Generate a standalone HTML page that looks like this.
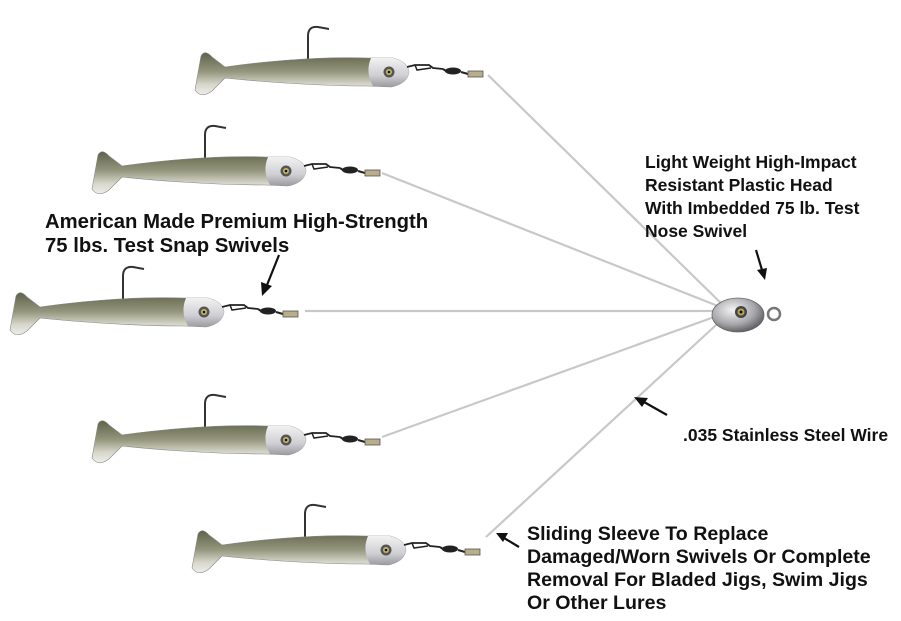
<!DOCTYPE html>
<html><head><meta charset="utf-8"><style>
html,body{margin:0;padding:0;background:#fff;width:901px;height:621px;overflow:hidden}
svg{display:block}
text{font-family:"Liberation Sans",sans-serif;font-weight:bold;font-size:17.5px;fill:#111}
.l{font-size:20.3px}
.b{font-size:19.6px}
</style></head><body>
<svg width="901" height="621" viewBox="0 0 901 621" xmlns="http://www.w3.org/2000/svg">
<defs>
<linearGradient id="bd" x1="0" y1="0" x2="0" y2="1">
<stop offset="0" stop-color="#5f624a"/><stop offset="0.45" stop-color="#95967e"/><stop offset="0.75" stop-color="#d6d6ca"/><stop offset="1" stop-color="#eeeeea"/>
</linearGradient>
<linearGradient id="hd" x1="0" y1="0" x2="0" y2="1">
<stop offset="0" stop-color="#f2f2f2"/><stop offset="0.6" stop-color="#cfcfd4"/><stop offset="1" stop-color="#9a9aa0"/>
</linearGradient>
<radialGradient id="jh" cx="0.4" cy="0.35" r="0.7">
<stop offset="0" stop-color="#f4f4f4"/><stop offset="0.6" stop-color="#a8a8ac"/><stop offset="1" stop-color="#55555a"/>
</radialGradient>
<g id="fish">
<path d="M115,-12 L115,-36 Q115,-46 125,-45 L136,-43" fill="none" stroke="#333" stroke-width="2"/>
<path d="M2,18 L8,-16 Q12,-23 19,-15 L32,-5 C60,-9 120,-16 175,-14 L200,-14 Q215,-10 216,0 Q214,12 198,15 L175,14 C120,14 60,9 32,6 L19,19 Q8,27 2,18 Z" fill="url(#bd)" stroke="#888" stroke-width="0.6"/>
<path d="M178,-14 L200,-14 Q215,-10 216,0 Q214,12 198,15 L180,14 Q172,0 178,-14 Z" fill="url(#hd)"/>
<circle cx="196" cy="0" r="5.5" fill="#555"/><circle cx="196" cy="0" r="3" fill="#c8b860"/><circle cx="196" cy="0" r="1.3" fill="#111"/>
<path d="M214,-5 L222,-7 L236,-7 L240,-4 L250,-3" fill="none" stroke="#222" stroke-width="1.8"/>
<path d="M222,-7 L224,-2 L238,-4" fill="none" stroke="#222" stroke-width="1.5"/>
<ellipse cx="260" cy="-1" rx="8" ry="3.5" fill="#222"/>
<path d="M250,-3 L253,-1 M268,0 L275,2" stroke="#222" stroke-width="2"/>
<rect x="275" y="-1" width="15" height="6" fill="#b8ae8a" stroke="#555" stroke-width="0.8"/>
</g>
</defs>
<g stroke="#c8c8c8" stroke-width="2.2" fill="none">
<line x1="488" y1="75" x2="728" y2="310"/>
<line x1="382" y1="173" x2="728" y2="310"/>
<line x1="305" y1="311" x2="728" y2="311"/>
<line x1="382" y1="437" x2="728" y2="312"/>
<line x1="486" y1="537" x2="728" y2="314"/>
</g>
<use href="#fish" transform="translate(193,72)"/>
<use href="#fish" transform="translate(90,171)"/>
<use href="#fish" transform="translate(8,312)"/>
<use href="#fish" transform="translate(90,440)"/>
<use href="#fish" transform="translate(190,550)"/>
<ellipse cx="738" cy="315" rx="26" ry="17" fill="url(#jh)" stroke="#666" stroke-width="0.8"/>
<circle cx="741" cy="312" r="6" fill="#444"/><circle cx="741" cy="312" r="3.5" fill="#b8a850"/><circle cx="741" cy="312" r="1.5" fill="#111"/>
<circle cx="774" cy="314" r="6" fill="none" stroke="#777" stroke-width="2.5"/>
<g stroke="#111" stroke-width="2.2">
<line x1="279" y1="255" x2="267" y2="285"/>
<line x1="756" y1="250" x2="762" y2="270"/>
<line x1="667" y1="415" x2="644" y2="402"/>
<line x1="519" y1="547" x2="504" y2="538"/>
</g>
<g fill="#111">
<polygon points="262,296 261,282 272,286"/>
<polygon points="765,280 757,270 767,268"/>
<polygon points="634,397 648,398 642,407"/>
<polygon points="496,533 508,533 503,542"/>
</g>
<text class="l" x="45" y="228">American Made Premium High-Strength</text>
<text class="l" x="45" y="252">75 lbs. Test Snap Swivels</text>
<text x="645" y="168">Light Weight High-Impact</text>
<text x="645" y="191">Resistant Plastic Head</text>
<text x="645" y="214">With Imbedded 75 lb. Test</text>
<text x="645" y="237">Nose Swivel</text>
<text x="683" y="441">.035 Stainless Steel Wire</text>
<text class="b" x="527" y="540">Sliding Sleeve To Replace</text>
<text class="b" x="527" y="563">Damaged/Worn Swivels Or Complete</text>
<text class="b" x="527" y="586">Removal For Bladed Jigs, Swim Jigs</text>
<text class="b" x="527" y="609">Or Other Lures</text>
</svg>
</body></html>
